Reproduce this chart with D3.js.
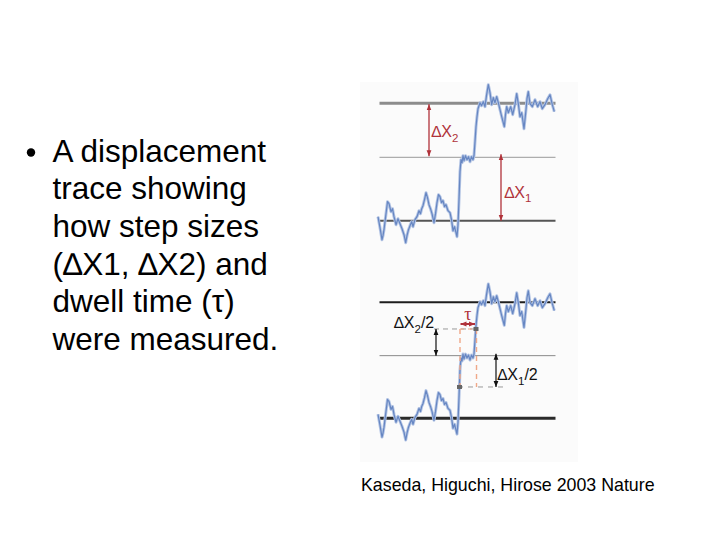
<!DOCTYPE html>
<html><head><meta charset="utf-8">
<script src="https://cdn.jsdelivr.net/npm/d3@7"></script>
<style>html,body{margin:0;padding:0;background:#fff;}svg{display:block;font-family:"Liberation Sans",Arial,sans-serif;}</style>
</head><body>
<script>
// ---- data ----
const bulletLines = ["A displacement", "trace showing", "how step sizes", "(\u2206X1, \u2206X2) and", "dwell time (\u03c4)", "were measured."];
const citation = "Kaseda, Higuchi, Hirose 2003 Nature";
// time (arbitrary units) and displacement (arbitrary units, 0 = first level)
const traceTime = [0,2,4,5,6,8,9.5,11,12,13,14.5,16,18,20,22,24,26,27.7,29,30.5,32,33.7,35,37,39,41,42.5,43.7,45,46.5,48,49.5,51,52.5,54,56,57.5,59,60.5,62,63.5,65,66.5,68,70,72,73.5,75,76.5,78,79,80,81,82,83,84,85,86,87.5,89,90.5,92,93.5,95,96,97,98,99,100,102,103.5,105.3,107,108.5,110.3,112,113.7,115.3,117,118.7,120.3,122,123.7,125,126.3,127.5,128.7,130.3,132.7,134.7,137,138.7,140.3,142,143.7,145,146,148,149,150.3,152,154.3,157,159.7,162,164.3,167,169.7,172,174.3,176.3];
const traceDisp = [4,-7,-19,-15,-9,7,19,17,13,9,12,4,-4,2,-3,-8,-14,-22,-15,-9,-5,-1,-6,1,4,10,7,12,15,21,28,23,16,12,7,-2,7,18,26,24,18,20,14,16,10,8,1,-10,-6,-12,-16,-4,21,49,61,58,65,60,65,61,64,59,64,61,65,79,94,104,112,118,115,119,114,125,136,128,116,123,118,124,118,111,104,99,94,106,114,108,114,106,116,127,117,104,108,99,92,111,122,129,117,114,121,114,119,112,116,122,126,116,109];
const levels = [0, 63.4, 117.4];           // step levels: start, after dX1, after dX1+dX2
const stepLabels = ["\u2206X", "1", "2"];
const tau = [82.5, 97];                    // dwell interval
</script>
<script>
const W = 720, H = 540;
const svg = d3.select("body").append("svg").attr("width", W).attr("height", H);

// Left text
const tx = svg.append("g");
tx.append("circle").attr("cx", 31).attr("cy", 152.5).attr("r", 4.2).attr("fill", "#000");
bulletLines.forEach((s, i) => {
  tx.append("text").attr("x", 52.5).attr("y", 161.7 + i * 37.66)
    .attr("font-size", 31.5).attr("fill", "#000").text(s);
});

// Figure background
svg.append("rect").attr("x", 360).attr("y", 82).attr("width", 218).attr("height", 380).attr("fill", "#fbfbfb");

const x = d3.scaleLinear().domain([0, 177]).range([378, 555]);
const yTop = d3.scaleLinear().domain([0, 117.4]).range([220.7, 103.3]);
const yBot = d3.scaleLinear().domain([0, 117.4]).range([418.3, 302.3]);

const trace = traceTime.map((t, i) => ({t, v: traceDisp[i]}));

const red = "#b0323a";
function defsArrow(id, color) {
  const m = svg.append("defs").append("marker").attr("id", id)
    .attr("viewBox", "0 0 10 10").attr("refX", 10).attr("refY", 5)
    .attr("markerWidth", 6).attr("markerHeight", 6).attr("orient", "auto-start-reverse")
    .attr("markerUnits", "userSpaceOnUse");
  m.append("path").attr("d", "M0,1 L10,5 L0,9 Z").attr("fill", color);
}
defsArrow("ar", red);
defsArrow("ak", "#111");

function panel(y, styles) {
  const g = svg.append("g");
  levels.forEach((lv, i) => {
    g.append("line").attr("x1", x(1.5)).attr("x2", x(177.5))
      .attr("y1", y(lv)).attr("y2", y(lv))
      .attr("stroke", styles[i].c).attr("stroke-width", styles[i].w);
  });
  const line = d3.line().x(d => x(d.t)).y(d => y(d.v)).curve(d3.curveLinear);
  g.append("path").datum(trace).attr("d", line).attr("fill", "none")
    .attr("stroke", "#b3c4e4").attr("stroke-width", 3).attr("stroke-linejoin", "round");
  g.append("path").datum(trace).attr("d", line).attr("fill", "none")
    .attr("stroke", "#6686c2").attr("stroke-width", 1.2).attr("stroke-linejoin", "round");
  return g;
}

// ---- top panel ----
const g1 = panel(yTop, [{c: "#555", w: 2}, {c: "#9a9a9a", w: 1}, {c: "#8c8c8c", w: 3}]);
g1.append("line").attr("x1", x(51)).attr("x2", x(51)).attr("y1", yTop(levels[2]) + 1).attr("y2", yTop(levels[1]) - 1)
  .attr("stroke", red).attr("stroke-width", 1.3).attr("marker-start", "url(#ar)").attr("marker-end", "url(#ar)");
g1.append("line").attr("x1", x(123)).attr("x2", x(123)).attr("y1", yTop(levels[1]) - 3).attr("y2", yTop(levels[0]) + 0)
  .attr("stroke", red).attr("stroke-width", 1.3).attr("marker-start", "url(#ar)").attr("marker-end", "url(#ar)");
function stepLabel(g, px, py, sub, extra, color) {
  const t = g.append("text").attr("x", px).attr("y", py).attr("font-size", 16).attr("fill", color);
  t.append("tspan").text(stepLabels[0]);
  t.append("tspan").attr("dy", 4.5).attr("font-size", 11.5).text(sub);
  if (extra) t.append("tspan").attr("dy", -4.5).text(extra);
}
stepLabel(g1, 431.5, 137, stepLabels[2], null, red);
stepLabel(g1, 504.5, 197.5, stepLabels[1], null, red);

// ---- bottom panel ----
const g2 = panel(yBot, [{c: "#2a2a2a", w: 3}, {c: "#8a8a8a", w: 1}, {c: "#1e1e1e", w: 2}]);
const half2 = (levels[1] + levels[2]) / 2, half1 = (levels[0] + levels[1]) / 2;
// dashed guides
g2.append("line").attr("x1", x(56)).attr("x2", x(tau[1])).attr("y1", yBot(half2)).attr("y2", yBot(half2))
  .attr("stroke", "#999").attr("stroke-width", 1).attr("stroke-dasharray", "5,4");
g2.append("line").attr("x1", x(80)).attr("x2", x(130)).attr("y1", yBot(half1)).attr("y2", yBot(half1))
  .attr("stroke", "#999").attr("stroke-width", 1).attr("stroke-dasharray", "5,5");
// orange dashed box
[tau[0] - 0.5, tau[1] + 1.5].forEach(t => {
  g2.append("line").attr("x1", x(t)).attr("x2", x(t)).attr("y1", yBot(half2)).attr("y2", yBot(half1))
    .attr("stroke", "#f0a888").attr("stroke-width", 1.4).attr("stroke-dasharray", "5,4");
});
g2.append("line").attr("x1", x(tau[0] - 0.5)).attr("x2", x(tau[1] + 1.5)).attr("y1", yBot(half2)).attr("y2", yBot(half2))
  .attr("stroke", "#f0a888").attr("stroke-width", 1.2).attr("stroke-dasharray", "4,4");
// black half-step arrows
g2.append("line").attr("x1", x(58)).attr("x2", x(58)).attr("y1", yBot(half2)).attr("y2", yBot(levels[1]))
  .attr("stroke", "#111").attr("stroke-width", 1.2).attr("marker-start", "url(#ak)").attr("marker-end", "url(#ak)");
g2.append("line").attr("x1", x(118)).attr("x2", x(118)).attr("y1", yBot(levels[1]) - 2).attr("y2", yBot(half1))
  .attr("stroke", "#111").attr("stroke-width", 1.2).attr("marker-start", "url(#ak)").attr("marker-end", "url(#ak)");
// tau arrow
g2.append("line").attr("x1", x(tau[0])).attr("x2", x(tau[1])).attr("y1", 324).attr("y2", 324)
  .attr("stroke", red).attr("stroke-width", 2).attr("marker-start", "url(#ar)").attr("marker-end", "url(#ar)");
g2.append("text").attr("x", x((tau[0] + tau[1]) / 2)).attr("y", 320).attr("text-anchor", "middle")
  .attr("font-size", 18).attr("fill", red).attr("font-family", "Liberation Serif, serif").text("\u03c4");
// markers at half-levels
[[tau[0] - 1, half1], [tau[1] + 1, half2]].forEach(([t, v]) => {
  g2.append("rect").attr("x", x(t) - 2.5).attr("y", yBot(v) - 2).attr("width", 5).attr("height", 4).attr("fill", "#666");
});
stepLabel(g2, 394, 328, stepLabels[2], "/2", "#111");
stepLabel(g2, 497.5, 380, stepLabels[1], "/2", "#111");

// citation
svg.append("text").attr("x", 361).attr("y", 491).attr("font-size", 17.8).attr("fill", "#000").text(citation);
</script>
</body></html>
